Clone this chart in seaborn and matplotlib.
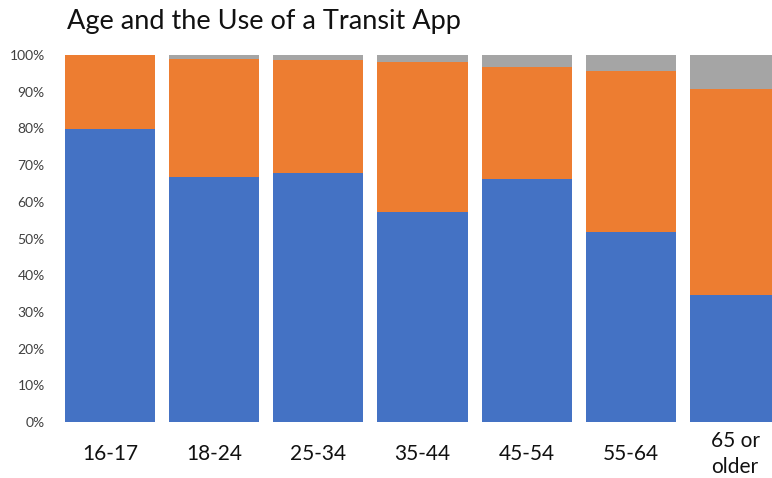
import matplotlib
matplotlib.use("Agg")
import matplotlib.pyplot as plt
import seaborn as sns
import numpy as np
import pandas as pd

# Share of respondents in each age group (percent)
age_groups = ["16-17", "18-24", "25-34", "35-44", "45-54", "55-64", "65 or\nolder"]
uses_app = [79.8, 66.8, 67.8, 57.2, 66.2, 51.9, 34.6]
no_app = [20.2, 32.0, 30.8, 40.8, 30.5, 43.7, 56.1]
no_answer = [0.0, 1.2, 1.4, 2.0, 3.3, 4.4, 9.3]

series = [
    ("Uses app", uses_app, "#4472C4"),
    ("Does not use app", no_app, "#ED7D31"),
    ("No answer", no_answer, "#A5A5A5"),
]

sns.set_theme(style="white")
plt.rcParams["font.family"] = ["Lato", "DejaVu Sans"]

W, H = 772, 478
fig = plt.figure(figsize=(W / 100, H / 100), dpi=100)
ax_left, ax_right = 60, 772
ax_bottom, ax_top = 478 - 422, 478 - 55
ax = fig.add_axes([ax_left / W, ax_bottom / H, (ax_right - ax_left) / W, (ax_top - ax_bottom) / H])

bottom = np.zeros(len(age_groups))
for name, vals, color in series:
    df = pd.DataFrame({"age": age_groups, "pct": vals})
    sns.barplot(data=df, x="age", y="pct", color=color, width=0.865,
                bottom=bottom.copy(), linewidth=0, saturation=1, ax=ax)
    bottom += np.array(vals)

pitch = 104.17
ax.set_xlim(-(110 - ax_left) / pitch, (ax_right - 110) / pitch)
ax.set_ylim(0, 100)
ax.set_yticks(np.arange(0, 101, 10))
ax.set_yticklabels([f"{v}%" for v in range(0, 101, 10)], fontsize=10, color="#404040")
ax.tick_params(axis="y", length=0, pad=11)
ax.tick_params(axis="x", length=0, pad=23, labelsize=15, labelcolor="#111111")
for lbl in ax.get_xticklabels():
    lbl.set_linespacing(1.4)
    lbl.set_verticalalignment("center")
ax.set_xlabel("")
ax.set_ylabel("")
for s in ax.spines.values():
    s.set_visible(False)

fig.text(67 / W, 1 - 22 / H, "Age and the Use of a Transit App", fontsize=19.5,
         color="#111111", va="center", ha="left")

fig.savefig("out.png", dpi=100)
